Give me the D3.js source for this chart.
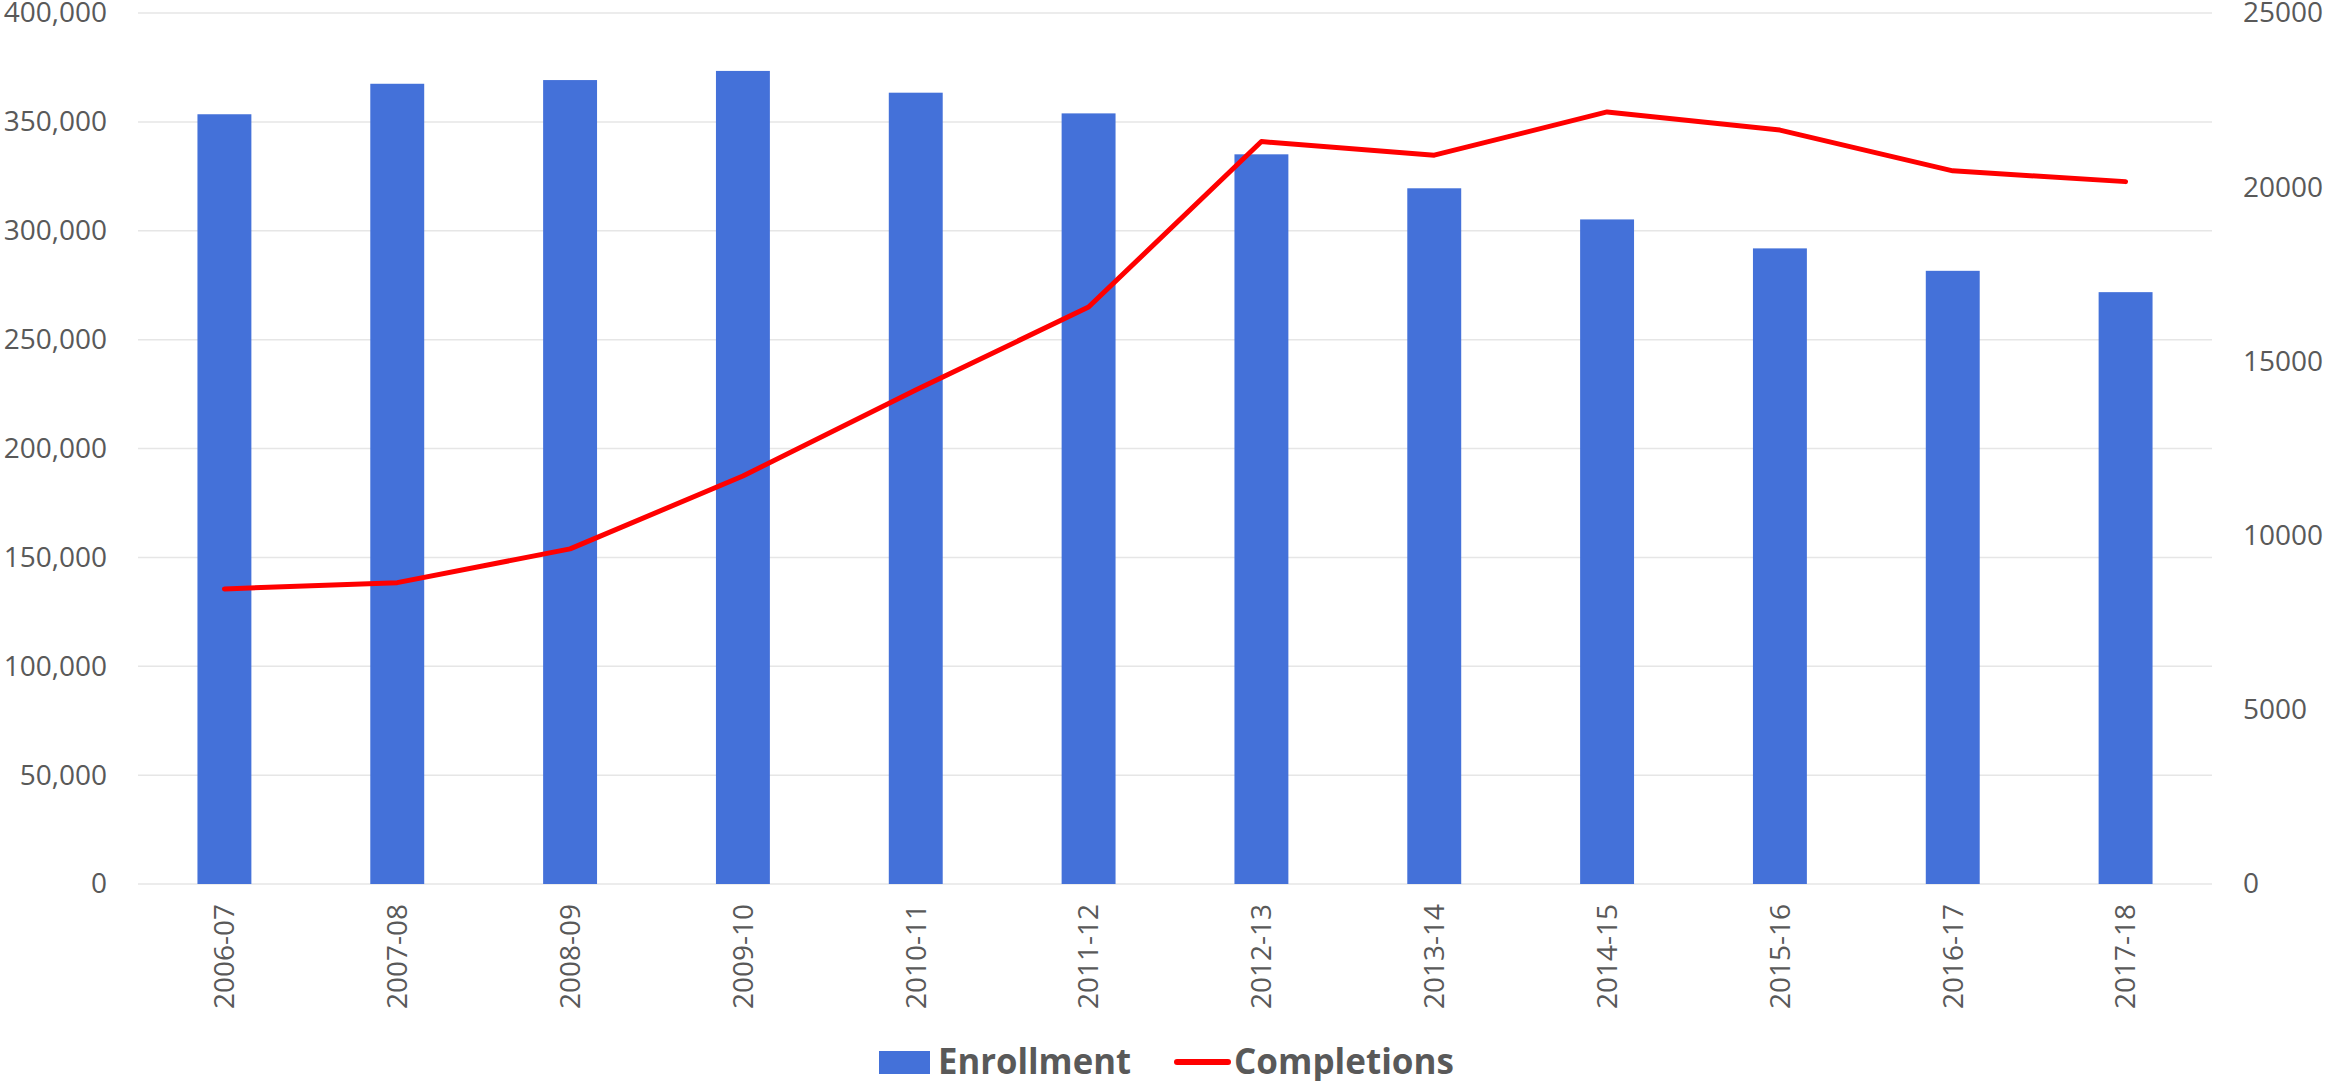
<!DOCTYPE html>
<html>
<head>
<meta charset="utf-8">
<script src="https://cdn.jsdelivr.net/npm/d3@7"></script>
<style>
  html, body { margin: 0; padding: 0; background: #fff; }
  svg { display: block; }
</style>
</head>
<body>
<svg id="chart" width="2325" height="1081"></svg>
<script>
const categories = ["2006-07","2007-08","2008-09","2009-10","2010-11","2011-12","2012-13","2013-14","2014-15","2015-16","2016-17","2017-18"];
const enrollment = [353500, 367500, 369200, 373400, 363400, 353900, 335100, 319500, 305200, 291900, 281600, 271800];
const completions = [8470, 8650, 9620, 11710, 14180, 16560, 21310, 20920, 22160, 21640, 20470, 20160];
const leftTicks = [0, 50000, 100000, 150000, 200000, 250000, 300000, 350000, 400000];
const rightTicks = [0, 5000, 10000, 15000, 20000, 25000];
const seriesNames = ["Enrollment", "Completions"];

const svg = d3.select("#chart");
const plot = { left: 138, right: 2212, top: 13, bottom: 884 };
const textColor = "#595959";
const font = "'Open Sans', sans-serif";

const x = d3.scaleBand().domain(categories).range([plot.left, plot.right]).paddingInner(0.688).paddingOuter(0.344);
const yL = d3.scaleLinear().domain([0, 400000]).range([plot.bottom, plot.top]);
const yR = d3.scaleLinear().domain([0, 25000]).range([plot.bottom, plot.top]);

// gridlines
svg.append("g").selectAll("line").data(leftTicks).join("line")
  .attr("x1", plot.left).attr("x2", plot.right)
  .attr("y1", d => yL(d)).attr("y2", d => yL(d))
  .attr("stroke", "#e6e6e6").attr("stroke-width", 1.5);

// left axis
const gL = svg.append("g").attr("transform", `translate(${plot.left},0)`)
  .call(d3.axisLeft(yL).tickValues(leftTicks).tickSize(0).tickPadding(31).tickFormat(d3.format(",")));
gL.select(".domain").remove();
gL.selectAll("text").attr("fill", textColor).style("font-family", font).style("font-size", "28px");

// right axis
const gR = svg.append("g").attr("transform", `translate(${plot.right},0)`)
  .call(d3.axisRight(yR).tickValues(rightTicks).tickSize(0).tickPadding(31).tickFormat(d3.format("d")));
gR.select(".domain").remove();
gR.selectAll("text").attr("fill", textColor).style("font-family", font).style("font-size", "28px");

// bars
svg.append("g").selectAll("rect").data(categories).join("rect")
  .attr("x", d => x(d)).attr("width", x.bandwidth())
  .attr("y", (d, i) => yL(enrollment[i]))
  .attr("height", (d, i) => yL(0) - yL(enrollment[i]))
  .attr("fill", "#4471D9");

// x axis labels
const gX = svg.append("g").attr("transform", `translate(0,${plot.bottom})`)
  .call(d3.axisBottom(x).tickSize(0).tickPadding(0));
gX.select(".domain").remove();
gX.selectAll("text")
  .attr("fill", textColor).style("font-family", font).style("font-size", "28px")
  .attr("text-anchor", "end")
  .attr("dy", "0.35em")
  .attr("transform", "translate(0,20) rotate(-90)")
  .attr("x", 0).attr("y", 0);

// line
const line = d3.line().x((d, i) => x(categories[i]) + x.bandwidth() / 2).y(d => yR(d));
svg.append("path").datum(completions)
  .attr("d", line).attr("fill", "none").attr("stroke", "#FF0000")
  .attr("stroke-width", 5).attr("stroke-linejoin", "round").attr("stroke-linecap", "round");

// legend
const leg = svg.append("g");
leg.append("rect").attr("x", 879).attr("y", 1051).attr("width", 51).attr("height", 23).attr("fill", "#4471D9");
leg.append("text").attr("x", 938).attr("y", 1074).text(seriesNames[0])
  .attr("fill", textColor).style("font-family", font).style("font-size", "36px").style("font-weight", "bold")
  .attr("textLength", 193).attr("lengthAdjust", "spacingAndGlyphs");
leg.append("line").attr("x1", 1177).attr("x2", 1228).attr("y1", 1062).attr("y2", 1062)
  .attr("stroke", "#FF0000").attr("stroke-width", 6).attr("stroke-linecap", "round");
leg.append("text").attr("x", 1234).attr("y", 1074).text(seriesNames[1])
  .attr("fill", textColor).style("font-family", font).style("font-size", "36px").style("font-weight", "bold")
  .attr("textLength", 220).attr("lengthAdjust", "spacingAndGlyphs");
</script>
</body>
</html>
